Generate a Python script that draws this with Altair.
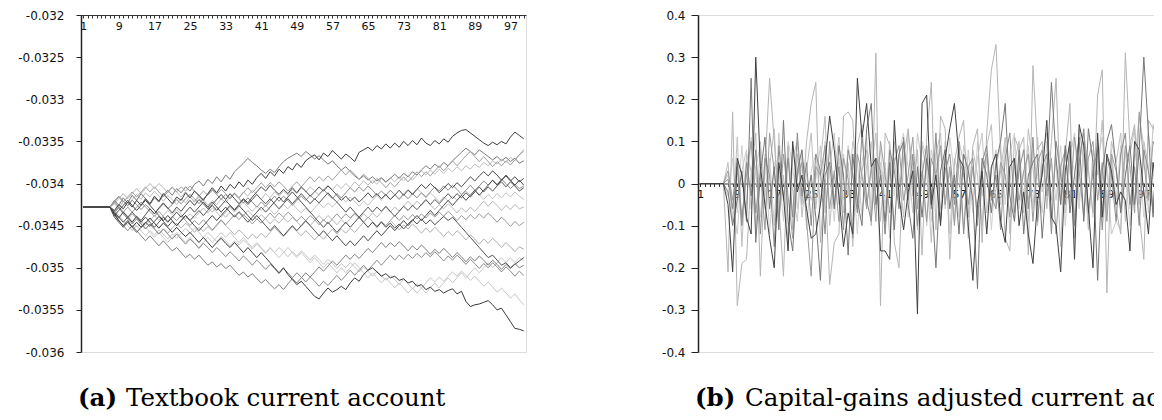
import altair as alt
import pandas as pd

categories = list(range(1, 101))

# ---------------- panel (a): textbook current account (values in units of 1e-5) ----------------
a_s1 = [-3428,-3428,-3428,-3428,-3428,-3428,-3428,-3432,-3425,-3430,
        -3422,-3428,-3420,-3426,-3418,-3424,-3415,-3421,-3412,-3418,
        -3424,-3416,-3420,-3411,-3417,-3409,-3414,-3420,-3412,-3405,
        -3411,-3403,-3409,-3401,-3406,-3398,-3404,-3396,-3401,-3393,
        -3388,-3394,-3386,-3391,-3383,-3388,-3380,-3384,-3376,-3381,
        -3373,-3369,-3366,-3372,-3364,-3368,-3361,-3366,-3371,-3365,
        -3369,-3374,-3363,-3360,-3357,-3361,-3355,-3359,-3353,-3358,
        -3352,-3357,-3350,-3355,-3349,-3354,-3346,-3352,-3355,-3349,
        -3353,-3347,-3351,-3344,-3340,-3337,-3336,-3340,-3344,-3348,
        -3352,-3355,-3351,-3354,-3350,-3353,-3345,-3339,-3343,-3347]
a_s2 = [-3428,-3428,-3428,-3428,-3428,-3428,-3428,-3420,-3426,-3417,
        -3423,-3414,-3420,-3412,-3418,-3425,-3417,-3422,-3414,-3408,
        -3414,-3406,-3411,-3404,-3409,-3401,-3397,-3403,-3395,-3400,
        -3392,-3398,-3390,-3395,-3386,-3381,-3376,-3370,-3375,-3379,
        -3384,-3388,-3383,-3387,-3380,-3374,-3370,-3367,-3364,-3368,
        -3362,-3366,-3371,-3367,-3372,-3377,-3373,-3379,-3384,-3380,
        -3386,-3391,-3395,-3391,-3396,-3392,-3397,-3393,-3398,-3394,
        -3389,-3394,-3388,-3392,-3386,-3390,-3384,-3379,-3383,-3377,
        -3381,-3375,-3379,-3373,-3368,-3363,-3358,-3362,-3366,-3360,
        -3364,-3368,-3372,-3368,-3373,-3369,-3374,-3370,-3376,-3373]
a_s3 = [-3428,-3428,-3428,-3428,-3428,-3428,-3428,-3424,-3430,-3421,
        -3427,-3419,-3413,-3419,-3411,-3416,-3409,-3415,-3421,-3414,
        -3419,-3425,-3418,-3423,-3416,-3421,-3414,-3419,-3426,-3420,
        -3425,-3418,-3423,-3416,-3411,-3417,-3410,-3415,-3408,-3413,
        -3419,-3412,-3417,-3410,-3415,-3409,-3414,-3407,-3412,-3405,
        -3410,-3404,-3409,-3414,-3407,-3402,-3408,-3401,-3406,-3400,
        -3405,-3398,-3403,-3397,-3402,-3396,-3401,-3394,-3399,-3393,
        -3398,-3392,-3397,-3391,-3396,-3390,-3385,-3390,-3384,-3389,
        -3383,-3388,-3382,-3386,-3380,-3385,-3379,-3383,-3377,-3381,
        -3375,-3379,-3373,-3377,-3371,-3375,-3369,-3373,-3366,-3362]
a_s4 = [-3428,-3428,-3428,-3428,-3428,-3428,-3428,-3436,-3441,-3434,
        -3440,-3446,-3439,-3444,-3437,-3430,-3436,-3429,-3423,-3429,
        -3435,-3428,-3433,-3426,-3420,-3426,-3419,-3424,-3430,-3425,
        -3419,-3413,-3419,-3412,-3418,-3424,-3418,-3423,-3416,-3410,
        -3404,-3409,-3402,-3408,-3413,-3407,-3412,-3405,-3411,-3404,
        -3409,-3415,-3410,-3404,-3409,-3403,-3408,-3414,-3420,-3415,
        -3421,-3416,-3422,-3417,-3411,-3417,-3412,-3418,-3413,-3419,
        -3414,-3408,-3414,-3408,-3413,-3407,-3401,-3406,-3400,-3405,
        -3411,-3406,-3400,-3405,-3399,-3404,-3398,-3392,-3397,-3391,
        -3386,-3391,-3385,-3390,-3396,-3391,-3397,-3392,-3398,-3394]
a_s5 = [-3428,-3428,-3428,-3428,-3428,-3428,-3428,-3421,-3415,-3421,
        -3426,-3420,-3425,-3431,-3425,-3430,-3436,-3430,-3424,-3430,
        -3425,-3419,-3424,-3418,-3413,-3418,-3424,-3418,-3413,-3407,
        -3413,-3419,-3413,-3418,-3412,-3418,-3423,-3417,-3422,-3428,
        -3422,-3427,-3421,-3415,-3421,-3415,-3420,-3426,-3420,-3415,
        -3420,-3414,-3419,-3413,-3407,-3413,-3418,-3412,-3417,-3411,
        -3405,-3410,-3404,-3409,-3403,-3408,-3414,-3409,-3414,-3408,
        -3413,-3419,-3413,-3418,-3412,-3417,-3411,-3416,-3410,-3404,
        -3409,-3403,-3408,-3402,-3407,-3413,-3408,-3402,-3408,-3403,
        -3397,-3402,-3396,-3401,-3395,-3400,-3406,-3401,-3406,-3403]
a_s6 = [-3428,-3428,-3428,-3428,-3428,-3428,-3428,-3433,-3427,-3433,
        -3439,-3445,-3439,-3444,-3450,-3444,-3438,-3444,-3438,-3432,
        -3437,-3431,-3436,-3442,-3436,-3441,-3435,-3429,-3435,-3429,
        -3434,-3440,-3434,-3428,-3434,-3428,-3422,-3428,-3433,-3427,
        -3432,-3426,-3431,-3437,-3431,-3425,-3430,-3424,-3430,-3435,
        -3429,-3435,-3429,-3423,-3429,-3423,-3428,-3422,-3416,-3422,
        -3416,-3421,-3427,-3421,-3426,-3420,-3414,-3420,-3414,-3419,
        -3413,-3418,-3412,-3407,-3412,-3406,-3411,-3417,-3411,-3416,
        -3422,-3416,-3421,-3415,-3420,-3414,-3409,-3414,-3408,-3413,
        -3419,-3413,-3418,-3412,-3417,-3411,-3416,-3410,-3415,-3419]
a_s7 = [-3428,-3428,-3428,-3428,-3428,-3428,-3428,-3440,-3446,-3452,
        -3446,-3452,-3458,-3452,-3446,-3451,-3445,-3439,-3445,-3451,
        -3445,-3450,-3444,-3438,-3444,-3438,-3432,-3438,-3432,-3426,
        -3432,-3426,-3420,-3426,-3431,-3425,-3419,-3425,-3419,-3413,
        -3419,-3424,-3418,-3424,-3430,-3424,-3418,-3424,-3418,-3412,
        -3418,-3424,-3418,-3423,-3417,-3411,-3417,-3422,-3428,-3434,
        -3428,-3434,-3440,-3434,-3428,-3434,-3428,-3433,-3427,-3433,
        -3439,-3433,-3427,-3432,-3426,-3431,-3425,-3419,-3425,-3419,
        -3424,-3418,-3412,-3418,-3412,-3417,-3411,-3416,-3410,-3404,
        -3410,-3404,-3409,-3403,-3398,-3404,-3398,-3403,-3409,-3405]
a_s8 = [-3428,-3428,-3428,-3428,-3428,-3428,-3428,-3422,-3428,-3434,
        -3428,-3434,-3428,-3422,-3428,-3433,-3439,-3433,-3439,-3445,
        -3439,-3444,-3438,-3444,-3450,-3444,-3449,-3443,-3449,-3455,
        -3449,-3443,-3449,-3443,-3437,-3443,-3437,-3442,-3448,-3442,
        -3447,-3441,-3435,-3441,-3435,-3440,-3434,-3439,-3445,-3439,
        -3444,-3438,-3443,-3449,-3443,-3448,-3442,-3436,-3442,-3436,
        -3441,-3435,-3440,-3446,-3440,-3445,-3451,-3445,-3450,-3444,
        -3438,-3444,-3438,-3443,-3437,-3442,-3436,-3441,-3435,-3440,
        -3434,-3439,-3433,-3438,-3444,-3438,-3443,-3437,-3442,-3436,
        -3441,-3435,-3440,-3446,-3440,-3445,-3451,-3445,-3450,-3446]
a_s9 = [-3428,-3428,-3428,-3428,-3428,-3428,-3428,-3435,-3429,-3436,
        -3442,-3436,-3442,-3448,-3454,-3448,-3454,-3460,-3454,-3459,
        -3453,-3447,-3453,-3447,-3452,-3458,-3452,-3457,-3451,-3456,
        -3450,-3444,-3450,-3455,-3461,-3455,-3460,-3466,-3460,-3465,
        -3459,-3464,-3458,-3452,-3458,-3463,-3457,-3451,-3457,-3462,
        -3456,-3461,-3467,-3461,-3466,-3460,-3454,-3460,-3454,-3459,
        -3453,-3458,-3452,-3446,-3452,-3446,-3451,-3445,-3450,-3444,
        -3449,-3455,-3449,-3454,-3448,-3453,-3459,-3453,-3458,-3452,
        -3457,-3463,-3457,-3462,-3456,-3461,-3467,-3461,-3466,-3472,
        -3466,-3471,-3465,-3470,-3476,-3470,-3475,-3481,-3475,-3478]
a_s10 = [-3428,-3428,-3428,-3428,-3428,-3428,-3428,-3436,-3444,-3450,
         -3444,-3452,-3446,-3452,-3447,-3441,-3447,-3453,-3447,-3452,
         -3458,-3452,-3458,-3463,-3458,-3464,-3470,-3464,-3470,-3476,
         -3470,-3465,-3471,-3476,-3470,-3476,-3482,-3476,-3482,-3488,
         -3482,-3488,-3494,-3500,-3506,-3500,-3508,-3514,-3520,-3516,
         -3522,-3528,-3534,-3537,-3530,-3524,-3529,-3526,-3522,-3526,
         -3518,-3512,-3516,-3508,-3503,-3500,-3505,-3510,-3507,-3512,
         -3510,-3515,-3513,-3518,-3516,-3522,-3520,-3526,-3523,-3528,
         -3526,-3530,-3527,-3525,-3531,-3528,-3540,-3546,-3544,-3543,
         -3541,-3539,-3544,-3550,-3548,-3556,-3564,-3572,-3573,-3575]
a_s11 = [-3428,-3428,-3428,-3428,-3428,-3428,-3428,-3438,-3444,-3450,
         -3456,-3450,-3456,-3462,-3468,-3462,-3468,-3474,-3468,-3474,
         -3480,-3476,-3482,-3488,-3484,-3490,-3485,-3491,-3497,-3493,
         -3499,-3495,-3501,-3497,-3503,-3509,-3505,-3511,-3507,-3513,
         -3518,-3514,-3520,-3525,-3520,-3526,-3519,-3513,-3518,-3512,
         -3506,-3511,-3505,-3499,-3504,-3498,-3492,-3497,-3491,-3485,
         -3490,-3484,-3489,-3483,-3477,-3482,-3476,-3470,-3476,-3470,
         -3475,-3469,-3474,-3480,-3474,-3479,-3473,-3478,-3484,-3478,
         -3483,-3477,-3482,-3488,-3482,-3487,-3493,-3487,-3492,-3486,
         -3491,-3497,-3491,-3496,-3502,-3496,-3501,-3495,-3500,-3497]
a_s12 = [-3428,-3428,-3428,-3428,-3428,-3428,-3428,-3432,-3438,-3444,
         -3450,-3456,-3450,-3456,-3462,-3456,-3461,-3455,-3460,-3466,
         -3460,-3465,-3459,-3453,-3459,-3453,-3458,-3464,-3458,-3463,
         -3469,-3463,-3468,-3474,-3468,-3473,-3467,-3472,-3478,-3472,
         -3477,-3483,-3477,-3482,-3476,-3481,-3487,-3481,-3486,-3480,
         -3485,-3491,-3485,-3490,-3496,-3490,-3495,-3501,-3495,-3500,
         -3494,-3499,-3505,-3499,-3504,-3510,-3504,-3509,-3515,-3509,
         -3514,-3520,-3514,-3519,-3525,-3519,-3524,-3518,-3512,-3517,
         -3511,-3516,-3510,-3505,-3510,-3504,-3509,-3515,-3510,-3516,
         -3522,-3517,-3523,-3529,-3524,-3530,-3536,-3531,-3538,-3544]
a_s13 = [-3428,-3428,-3428,-3428,-3428,-3428,-3428,-3434,-3428,-3436,
         -3442,-3448,-3442,-3448,-3454,-3448,-3454,-3460,-3454,-3460,
         -3466,-3460,-3466,-3472,-3466,-3471,-3477,-3471,-3476,-3482,
         -3476,-3481,-3487,-3481,-3486,-3492,-3486,-3491,-3497,-3491,
         -3496,-3502,-3496,-3501,-3507,-3501,-3506,-3512,-3506,-3511,
         -3517,-3511,-3516,-3522,-3516,-3521,-3515,-3509,-3515,-3509,
         -3503,-3509,-3503,-3497,-3503,-3497,-3491,-3497,-3491,-3485,
         -3491,-3485,-3490,-3484,-3489,-3483,-3488,-3482,-3487,-3481,
         -3486,-3492,-3486,-3491,-3485,-3490,-3496,-3490,-3495,-3501,
         -3495,-3500,-3494,-3499,-3505,-3499,-3504,-3510,-3504,-3509]
a_s14 = [-3428,-3428,-3428,-3428,-3428,-3428,-3428,-3434,-3440,-3446,
         -3440,-3434,-3440,-3446,-3440,-3446,-3452,-3446,-3440,-3446,
         -3440,-3434,-3440,-3434,-3428,-3434,-3428,-3422,-3428,-3422,
         -3428,-3434,-3428,-3434,-3440,-3434,-3440,-3446,-3440,-3434,
         -3428,-3434,-3428,-3422,-3416,-3422,-3416,-3410,-3416,-3422,
         -3428,-3434,-3440,-3446,-3452,-3446,-3452,-3458,-3452,-3446,
         -3452,-3446,-3440,-3446,-3452,-3446,-3452,-3446,-3452,-3447,
         -3453,-3448,-3454,-3448,-3443,-3448,-3442,-3448,-3443,-3449,
         -3444,-3439,-3444,-3440,-3446,-3452,-3458,-3464,-3470,-3476,
         -3482,-3488,-3485,-3491,-3497,-3494,-3500,-3496,-3492,-3488]
a_s15 = [-3428,-3428,-3428,-3428,-3428,-3428,-3428,-3424,-3418,-3412,
         -3418,-3412,-3406,-3412,-3406,-3400,-3406,-3400,-3405,-3411,
         -3405,-3410,-3416,-3410,-3416,-3422,-3416,-3422,-3428,-3434,
         -3428,-3434,-3440,-3434,-3439,-3433,-3438,-3432,-3437,-3443,
         -3437,-3442,-3448,-3442,-3447,-3441,-3446,-3440,-3445,-3451,
         -3445,-3450,-3444,-3438,-3444,-3438,-3443,-3449,-3443,-3448,
         -3442,-3436,-3442,-3436,-3441,-3435,-3440,-3434,-3428,-3434,
         -3428,-3433,-3427,-3421,-3427,-3421,-3426,-3420,-3425,-3431,
         -3425,-3430,-3424,-3429,-3435,-3429,-3434,-3428,-3433,-3427,
         -3421,-3427,-3421,-3426,-3432,-3426,-3431,-3425,-3430,-3428]
a_s16 = [-3428,-3428,-3428,-3428,-3428,-3428,-3428,-3422,-3416,-3422,
         -3416,-3410,-3416,-3410,-3404,-3410,-3404,-3410,-3416,-3410,
         -3404,-3410,-3404,-3409,-3403,-3409,-3415,-3409,-3414,-3408,
         -3413,-3407,-3412,-3418,-3412,-3417,-3411,-3405,-3411,-3405,
         -3399,-3405,-3399,-3404,-3398,-3403,-3409,-3403,-3398,-3404,
         -3398,-3392,-3398,-3392,-3397,-3391,-3396,-3390,-3384,-3390,
         -3384,-3389,-3395,-3389,-3394,-3400,-3394,-3399,-3405,-3399,
         -3404,-3398,-3392,-3398,-3392,-3386,-3392,-3386,-3391,-3385,
         -3379,-3385,-3379,-3373,-3379,-3373,-3367,-3362,-3368,-3374,
         -3368,-3374,-3380,-3374,-3379,-3373,-3378,-3372,-3366,-3360]
a_s17 = [-3428,-3428,-3428,-3428,-3428,-3428,-3428,-3438,-3432,-3426,
         -3420,-3426,-3432,-3426,-3420,-3426,-3432,-3438,-3444,-3438,
         -3444,-3450,-3444,-3438,-3444,-3450,-3456,-3450,-3444,-3438,
         -3444,-3438,-3432,-3426,-3432,-3426,-3432,-3438,-3444,-3438,
         -3444,-3450,-3456,-3450,-3456,-3462,-3456,-3450,-3456,-3450,
         -3444,-3450,-3456,-3462,-3456,-3462,-3468,-3462,-3468,-3474,
         -3468,-3474,-3468,-3462,-3468,-3462,-3456,-3462,-3456,-3450,
         -3456,-3450,-3444,-3450,-3444,-3438,-3444,-3438,-3432,-3438,
         -3432,-3426,-3420,-3426,-3420,-3414,-3420,-3414,-3408,-3414,
         -3408,-3402,-3396,-3402,-3396,-3390,-3396,-3402,-3396,-3402]
a_s18 = [-3428,-3428,-3428,-3428,-3428,-3428,-3428,-3434,-3440,-3434,
         -3440,-3446,-3452,-3446,-3452,-3458,-3464,-3458,-3464,-3470,
         -3464,-3458,-3464,-3470,-3464,-3470,-3476,-3470,-3464,-3470,
         -3464,-3458,-3464,-3458,-3464,-3470,-3464,-3470,-3476,-3470,
         -3476,-3482,-3476,-3482,-3488,-3482,-3476,-3482,-3488,-3482,
         -3488,-3494,-3488,-3494,-3500,-3494,-3500,-3506,-3500,-3506,
         -3500,-3494,-3500,-3506,-3512,-3506,-3512,-3518,-3512,-3518,
         -3524,-3518,-3524,-3530,-3524,-3530,-3524,-3530,-3524,-3518,
         -3524,-3518,-3512,-3518,-3512,-3506,-3512,-3506,-3500,-3506,
         -3500,-3494,-3500,-3494,-3488,-3494,-3488,-3494,-3488,-3492]

panel_a = [
    ("a03", "#bdbdbd", a_s3), ("a06", "#c2c2c2", a_s6), ("a09", "#b0b0b0", a_s9),
    ("a12", "#c6c6c6", a_s12), ("a15", "#b8b8b8", a_s15), ("a18", "#c8c8c8", a_s18),
    ("a02", "#7a7a7a", a_s2), ("a05", "#8c8c8c", a_s5), ("a08", "#999999", a_s8),
    ("a11", "#7f7f7f", a_s11), ("a13", "#8a8a8a", a_s13), ("a16", "#a0a0a0", a_s16),
    ("a01", "#3d3d3d", a_s1), ("a04", "#4a4a4a", a_s4), ("a07", "#555555", a_s7),
    ("a10", "#383838", a_s10), ("a14", "#505050", a_s14), ("a17", "#484848", a_s17),
]

# ---------------- panel (b): capital-gains adjusted current account ----------------
b_d = [0,0,0,0,0,0,-0.05,-0.21,0.06,0.02,
       -0.08,-0.12,0.30,0.04,-0.05,-0.13,-0.20,0.05,-0.03,-0.16,
       0.10,-0.02,0.02,-0.06,-0.13,-0.12,-0.05,0.05,0.16,0.08,
       -0.03,-0.15,-0.07,-0.12,0.25,0.11,0.19,0.04,0.06,-0.16,
       -0.16,-0.18,0.15,-0.03,-0.11,-0.02,0.03,-0.31,0.19,0.21,
       -0.05,0.02,-0.10,0.06,0.13,0.19,0.06,0.04,-0.10,-0.23,
       -0.05,0.03,-0.12,0.04,0.07,-0.09,-0.14,0.04,0.06,-0.10,
       -0.02,-0.12,-0.19,-0.04,0.02,0.15,-0.08,-0.10,-0.21,0.03,
       0.10,-0.18,0.14,0.09,-0.06,-0.20,0.12,-0.08,0.07,0.03,
       -0.05,-0.02,-0.04,-0.16,0.10,0.08,-0.02,-0.12,0.05,-0.03]
b_m = [0,0,0,0,0,0,-0.02,-0.10,-0.04,0.03,
       -0.09,0.25,-0.14,0.02,0.11,-0.06,0.04,-0.11,0.15,-0.09,
       -0.16,0.03,0.08,-0.04,0.02,-0.08,-0.23,0.02,0.05,-0.06,
       0.09,0.02,-0.17,0.07,-0.04,-0.10,0.13,0.19,-0.05,0.02,
       -0.09,0.05,-0.11,0.07,0.10,-0.05,-0.13,0.04,-0.08,0.06,
       -0.02,-0.20,0.03,0.08,-0.06,0.02,-0.12,0.07,0.03,-0.04,
       -0.25,0.06,0.02,-0.07,0.05,0.10,0.19,-0.03,-0.09,0.08,
       -0.12,0.02,0.05,0.07,-0.13,0.02,0.24,0.06,-0.05,0.09,
       -0.07,0.02,0.11,-0.09,0.13,0.05,-0.23,0.03,0.10,0.14,
       0.04,-0.07,0.02,0.09,-0.05,0.08,0.30,0.12,-0.08,0.14]
b_l1 = [0,0,0,0,0,0,-0.21,0.17,-0.29,-0.19,
        -0.18,0.02,0.12,-0.22,0.04,0.25,0.10,-0.05,-0.22,0.09,
        -0.11,0.07,-0.05,0.10,0.19,0.24,-0.14,0.01,-0.24,-0.14,
        -0.12,0.16,0.17,0.15,-0.06,0.03,0.08,-0.10,0.31,-0.29,
        0.12,0.09,-0.14,-0.20,0.06,0.13,-0.03,0.08,-0.17,0.11,
        0.24,-0.11,0.16,0.13,-0.18,0.05,0.11,0.15,-0.08,0.09,
        0.13,-0.14,0.12,0.27,0.33,0.07,-0.13,-0.16,0.11,0.08,
        0.11,-0.17,0.28,0.08,0.10,-0.06,0.10,0.25,-0.05,0.07,
        0.19,-0.13,0.04,0.12,0.03,-0.07,0.21,0.27,-0.26,0.06,
        -0.06,-0.12,0.31,0.09,0.14,-0.07,-0.18,0.15,0.13,0.16]
b_l2 = [0,0,0,0,0,0,0.02,-0.05,-0.12,0.03,
        0.08,-0.06,0.04,0.09,-0.03,0.06,-0.10,0.12,-0.04,0.07,
        -0.02,-0.09,0.06,0.02,-0.04,0.01,0.09,-0.07,0.04,0.12,
        -0.05,0.07,-0.03,0.10,0.05,-0.08,0.04,0.10,-0.06,0.05,
        -0.12,0.03,0.06,-0.05,0.09,0.04,-0.07,0.12,0.05,-0.10,
        0.08,0.02,-0.06,0.10,-0.12,0.06,0.02,-0.11,0.08,-0.04,
        0.06,0.12,-0.07,0.03,0.08,-0.05,0.10,0.03,-0.09,0.06,
        -0.03,0.09,-0.06,0.11,-0.02,0.05,-0.09,0.10,0.04,-0.07,
        0.06,0.12,-0.04,0.07,-0.10,0.05,0.09,-0.06,0.04,-0.12,
        -0.09,-0.11,0.08,-0.06,0.05,0.16,0.09,-0.07,0.14,0.06]
b_m2 = [0,0,0,0,0,0,0.03,-0.04,0.05,-0.08,
        0.02,0.10,-0.07,0.03,-0.11,0.12,0.03,-0.08,0.07,-0.03,
        -0.13,0.02,0.05,-0.09,-0.22,0.04,0.02,0.09,-0.06,0.03,
        -0.09,0.06,0.01,-0.13,0.07,0.02,-0.06,0.04,-0.09,0.10,
        0.02,-0.07,0.05,0.09,-0.04,0.02,0.11,-0.06,0.03,-0.09,
        0.06,0.02,0.09,-0.05,0.04,-0.10,0.06,0.02,-0.05,0.04,
        -0.08,0.03,0.07,-0.03,-0.06,0.05,0.02,-0.08,0.06,-0.04,
        0.03,0.07,-0.09,0.05,0.08,-0.03,0.06,-0.12,0.04,0.08,
        -0.05,0.11,0.03,-0.08,0.06,0.10,-0.04,0.05,-0.09,0.07,
        0.03,-0.06,0.09,0.04,-0.07,0.17,0.05,-0.04,0.10,0.07]
b_l3 = [0,0,0,0,0,0,0.05,-0.09,0.11,-0.15,
        0.07,0.03,-0.12,0.10,-0.06,0.04,0.13,-0.09,0.02,-0.14,
        0.06,0.10,-0.08,0.03,0.12,-0.06,0.05,0.16,-0.10,0.02,
        0.11,-0.07,0.05,-0.15,0.09,0.14,-0.05,0.03,0.12,-0.09,
        0.05,-0.13,0.10,0.02,-0.08,0.12,0.04,-0.11,0.09,0.03,
        -0.14,0.07,0.12,-0.05,0.03,-0.09,0.10,0.05,-0.13,0.08,
        0.02,-0.10,0.09,0.14,-0.06,0.03,0.11,-0.12,0.05,0.10,
        -0.07,0.13,0.04,-0.10,0.07,0.12,-0.04,0.06,-0.15,0.09,
        0.04,-0.08,0.13,0.05,-0.11,0.08,0.02,0.15,-0.07,0.10,
        0.05,0.12,-0.09,0.07,0.13,-0.05,0.10,0.04,-0.06,0.09]
b_l4 = [0,0,0,0,0,0,-0.03,0.06,-0.07,0.09,
        -0.05,0.11,0.02,-0.08,0.07,-0.12,0.05,0.03,-0.09,0.10,
        0.04,-0.06,0.08,-0.11,0.03,0.07,-0.05,0.10,0.02,-0.09,
        0.06,-0.04,0.09,0.03,-0.12,0.05,0.11,-0.07,0.02,0.08,
        -0.06,0.10,-0.03,0.07,0.12,-0.08,0.04,-0.05,0.10,0.06,
        -0.09,0.04,0.08,-0.06,0.11,0.02,-0.08,0.09,0.04,-0.07,
        0.10,-0.03,0.06,-0.11,0.04,0.09,-0.05,0.07,0.12,-0.06,
        0.03,-0.09,0.08,0.02,-0.07,0.10,0.05,-0.04,0.09,-0.10,
        0.07,0.03,-0.06,0.10,0.04,-0.08,0.06,0.11,-0.05,0.08,
        -0.04,0.09,0.02,-0.10,0.07,0.05,-0.08,0.12,0.03,-0.05]
b_m3 = [0,0,0,0,0,0,0.01,-0.06,0.04,-0.10,
        0.05,-0.03,0.08,-0.12,0.06,0.02,-0.15,0.09,-0.04,0.06,
        -0.08,0.12,-0.03,0.05,-0.10,0.07,0.03,-0.12,0.10,-0.05,
        0.04,-0.11,0.08,0.02,-0.07,0.12,-0.04,-0.09,0.06,0.03,
        -0.12,0.08,0.03,-0.06,0.11,-0.04,0.07,-0.10,0.02,0.09,
        -0.06,0.12,-0.09,0.03,0.07,-0.05,0.10,-0.12,0.04,0.06,
        -0.10,0.05,0.09,-0.04,0.02,-0.11,0.06,0.12,-0.07,0.03,
        0.08,-0.06,0.11,-0.09,0.04,0.07,-0.12,0.10,0.02,-0.05,
        0.09,-0.10,0.05,0.13,-0.07,0.03,0.08,-0.11,0.06,0.02,
        -0.09,0.07,0.12,-0.05,0.04,-0.10,0.08,0.03,-0.07,0.11]

panel_b = [
    ("b7", "#d0d0d0", b_l4), ("b6", "#bfbfbf", b_l3), ("b4", "#c9c9c9", b_l2),
    ("b3", "#b5b5b5", b_l1), ("b5", "#9c9c9c", b_m2), ("b8", "#8c8c8c", b_m3),
    ("b2", "#777777", b_m), ("b1", "#404040", b_d),
]

a_ticks = [-0.032, -0.0325, -0.033, -0.0335, -0.034, -0.0345, -0.035, -0.0355, -0.036]
b_ticks = [0.4, 0.3, 0.2, 0.1, 0.0, -0.1, -0.2, -0.3, -0.4]

caption_a = ("(a)", "Textbook current account")
caption_b = ("(b)", "Capital-gains adjusted current account")

rows = []
for name, col, vals in panel_a:
    for c, v in zip(categories, vals):
        rows.append({"series": name, "shade": col, "period": c, "value": v / 1e5})
df_a = pd.DataFrame(rows)

rows = []
for name, col, vals in panel_b:
    for c, v in zip(categories, vals):
        rows.append({"series": name, "shade": col, "period": c, "value": v})
df_b = pd.DataFrame(rows)

H = 337
WA = 445
WB = 462
LAB = "DejaVu Sans"
CAP = "DejaVu Serif"
CAP_SIZE = 24.5
xlab = "(datum.value - 1) % 8 == 0 ? datum.label : ''"
ylab_a = "(datum.value < 0 ? '-' : '') + format(abs(datum.value), '.4~f')"
ylab_b = "(datum.value < -0.00001 ? '-' : '') + format(abs(datum.value), '.1~f')"


def xaxis(offset):
    return alt.Axis(orient="bottom", offset=offset, values=categories, labelExpr=xlab,
                    tickSize=3, tickColor="#333333", domainColor="#333333", domainWidth=1,
                    labelFont=LAB, labelFontSize=11, labelColor="#111111", labelPadding=2,
                    labelOverlap=False, labelFlush=False, grid=False, title=None)


def captions(cap, w_first):
    df = pd.DataFrame({"t": [cap[0]]})
    df2 = pd.DataFrame({"t": [cap[1]]})
    c1 = alt.Chart(df).mark_text(align="left", baseline="middle", font=CAP, fontSize=CAP_SIZE,
                                 fontWeight="bold", color="#000000").encode(
        x=alt.value(-3), y=alt.value(H + 47), text="t:N")
    c2 = alt.Chart(df2).mark_text(align="left", baseline="middle", font=CAP, fontSize=CAP_SIZE,
                                  color="#000000").encode(
        x=alt.value(w_first), y=alt.value(H + 47), text="t:N")
    return c1, c2


lines_a = alt.Chart(df_a).mark_line(strokeWidth=1, clip=True).encode(
    x=alt.X("period:Q", scale=alt.Scale(domain=[0.5, 100.5], nice=False, zero=False),
            axis=xaxis(-H)),
    y=alt.Y("value:Q", scale=alt.Scale(domain=[-0.036, -0.032], nice=False, zero=False),
            axis=alt.Axis(values=a_ticks, labelExpr=ylab_a, tickSize=5, tickColor="#222222",
                          domainColor="#222222", domainWidth=1.5, labelFont=LAB,
                          labelFontSize=12, labelColor="#111111", labelPadding=12,
                          minExtent=73, maxExtent=73, grid=False, title=None)),
    detail="series:N",
    color=alt.Color("shade:N", scale=None),
)
ca1, ca2 = captions(caption_a, 45)
chart_a = alt.layer(lines_a, ca1, ca2).properties(width=WA, height=H)

lines_b = alt.Chart(df_b).mark_line(strokeWidth=1, clip=True).encode(
    x=alt.X("period:Q", scale=alt.Scale(domain=[0.5, 100.5], nice=False, zero=False),
            axis=xaxis(-H / 2)),
    y=alt.Y("value:Q", scale=alt.Scale(domain=[-0.4, 0.4], nice=False, zero=False),
            axis=alt.Axis(values=b_ticks, labelExpr=ylab_b, tickSize=7, tickColor="#222222",
                          domainColor="#222222", domainWidth=1.5, labelFont=LAB,
                          labelFontSize=12, labelColor="#111111", labelPadding=6,
                          minExtent=40, maxExtent=40, grid=False, title=None)),
    detail="series:N",
    color=alt.Color("shade:N", scale=None),
)
cb1, cb2 = captions(caption_b, 47)
chart_b = alt.layer(lines_b, cb1, cb2).properties(width=WB, height=H)

# fixed-size canvas (no auto-growing) so the right panel is cut at the window edge
chart = alt.hconcat(chart_a, chart_b, spacing=130).properties(
    autosize=alt.AutoSizeParams(type="none"),
    padding={"left": 73, "top": 7, "right": 1073, "bottom": 395},
).configure_view(stroke="#a8a8a8", strokeWidth=1).configure(background="white")

chart.save("out.html", embed_options={"renderer": "svg", "actions": False})
